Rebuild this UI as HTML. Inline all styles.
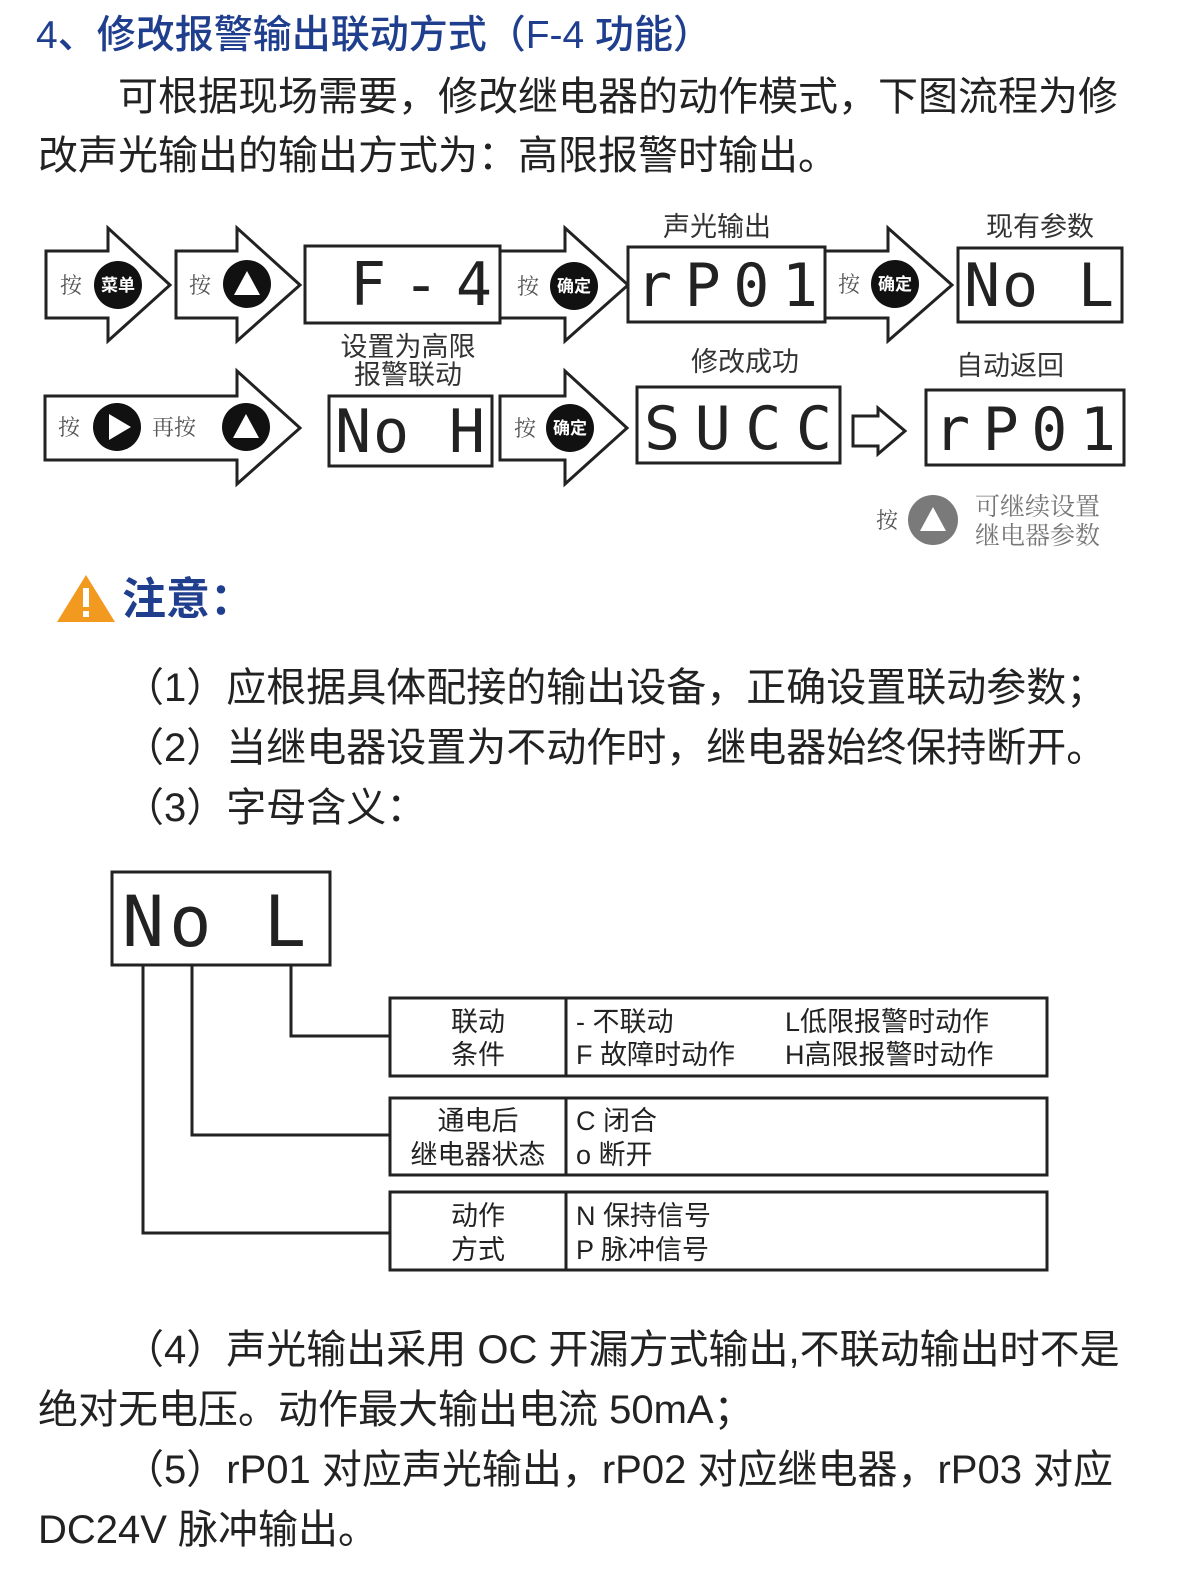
<!DOCTYPE html>
<html><head><meta charset="utf-8"><style>
body{margin:0;background:#fff;}
#p{position:relative;width:1199px;height:1585px;overflow:hidden;font-family:"Liberation Sans","Noto Sans CJK SC",sans-serif;color:#222;}
.t{position:absolute;white-space:nowrap;line-height:1;}
.b{font-size:40px;}
svg{position:absolute;left:0;top:0;}
</style></head><body><div id="p">
<div class="t" style="left:36px;top:16px;font-size:39px;color:#1f3e8e;font-weight:500;">4、修改报警输出联动方式（F-4 功能）</div>
<div class="t b" style="left:118px;top:77px;">可根据现场需要，修改继电器的动作模式，下图流程为修</div>
<div class="t b" style="left:38px;top:136px;">改声光输出的输出方式为：高限报警时输出。</div>

<svg width="1199" height="1585" viewBox="0 0 1199 1585" font-family="Liberation Sans, Noto Sans CJK SC, sans-serif">
<g fill="#fff" stroke="#222" stroke-width="3">
<polygon points="46,251 108,251 108,228 170,285 108,341 108,318 46,318"/>
<polygon points="176,251 237,251 237,228 300,285 237,341 237,318 176,318"/>
<polygon points="500,251 565,251 565,228 628,285 565,341 565,318 500,318"/>
<polygon points="825,251 888,251 888,228 952,285 888,341 888,318 825,318"/>
<polygon points="45,396 237,396 237,371 300,428 237,484 237,460 45,460"/>
<polygon points="500,396 565,396 565,371 627,428 565,484 565,460 500,460"/>
<polygon points="853,416 878,416 878,408 905,431 878,454 878,446 853,446"/>
<rect x="305" y="246" width="195" height="77"/>
<rect x="628" y="247" width="197" height="75"/>
<rect x="958" y="248" width="164" height="74"/>
<rect x="329" y="396" width="163" height="70"/>
<rect x="637" y="387" width="203" height="76"/>
<rect x="926" y="390" width="198" height="75"/>
<rect x="112" y="872" width="218" height="93"/>
<rect x="390" y="998" width="657" height="78"/>
<rect x="390" y="1098" width="657" height="77"/>
<rect x="390" y="1192" width="657" height="78"/>
</g>
<g stroke="#222" stroke-width="3" fill="none">
<line x1="566" y1="998" x2="566" y2="1076"/><line x1="566" y1="1098" x2="566" y2="1175"/><line x1="566" y1="1192" x2="566" y2="1270"/>
<polyline points="143,965 143,1233 390,1233"/>
<polyline points="192,965 192,1135 390,1135"/>
<polyline points="291,965 291,1036 390,1036"/>
</g>
<g fill="#111">
<circle cx="118" cy="285" r="24"/><circle cx="247" cy="284" r="24"/><circle cx="574" cy="286" r="24"/><circle cx="895" cy="284" r="24"/>
<circle cx="117" cy="427" r="24"/><circle cx="246" cy="427" r="24"/><circle cx="570" cy="428" r="24"/>
</g>
<circle cx="933" cy="520" r="25" fill="#7a7a7a"/>
<g fill="#fff">
<polygon points="247,271 260,295 234,295"/><polygon points="246,414 259,438 233,438"/><polygon points="933,507 946,531 920,531"/>
<polygon points="109,414 131,427 109,440"/>
</g>
<g fill="#fff" font-size="17" font-weight="bold" text-anchor="middle">
<text x="118" y="291">菜单</text><text x="574" y="292">确定</text><text x="895" y="290">确定</text><text x="570" y="434">确定</text>
</g>
<g fill="#555" font-size="22" font-family="Liberation Serif, Noto Serif CJK SC, serif">
<text x="60" y="293">按</text><text x="189" y="293">按</text><text x="517" y="294">按</text><text x="838" y="292">按</text>
<text x="58" y="435">按</text><text x="152" y="435">再按</text><text x="514" y="436">按</text><text x="876" y="528">按</text>
<text x="975" y="515" font-size="25" fill="#777">可继续设置</text><text x="975" y="544" font-size="25" fill="#777">继电器参数</text>
</g>
<g fill="#333" font-size="27" text-anchor="middle">
<text x="717" y="236">声光输出</text><text x="1040" y="236">现有参数</text>
<text x="408" y="356">设置为高限</text><text x="408" y="384">报警联动</text>
<text x="745" y="371">修改成功</text><text x="1010" y="375">自动返回</text>
</g>
<g fill="#222" font-family="DejaVu Sans Mono, Liberation Mono, monospace" font-size="60">
<text x="350" y="305" textLength="142" lengthAdjust="spacing">F-4</text>
<text x="636" y="306" textLength="182" lengthAdjust="spacing">rP01</text>
<text x="964" y="306" textLength="150" lengthAdjust="spacing">No L</text>
<text x="335" y="452" textLength="150" lengthAdjust="spacing">No H</text>
<text x="644" y="449" textLength="188" lengthAdjust="spacing">SUCC</text>
<text x="934" y="450" textLength="182" lengthAdjust="spacing">rP01</text>
<text x="122" y="946" font-size="70" textLength="184" lengthAdjust="spacing">No L</text>
</g>
<g fill="#222" font-size="27">
<g text-anchor="middle"><text x="478" y="1031">联动</text><text x="478" y="1064">条件</text>
<text x="478" y="1130">通电后</text><text x="478" y="1164">继电器状态</text>
<text x="478" y="1225">动作</text><text x="478" y="1259">方式</text></g>
<text x="576" y="1031">- 不联动</text><text x="785" y="1031">L低限报警时动作</text>
<text x="576" y="1064">F 故障时动作</text><text x="785" y="1064">H高限报警时动作</text>
<text x="576" y="1130">C 闭合</text><text x="576" y="1164">o 断开</text>
<text x="576" y="1225">N 保持信号</text><text x="576" y="1259">P 脉冲信号</text>
</g>
<polygon points="86,575 115,622 57,622" fill="#f29a1f"/>
<rect x="83" y="588" width="6" height="19" fill="#fff"/><rect x="83" y="611" width="6" height="6" fill="#fff"/>
</svg>

<div class="t" style="left:122px;top:578px;font-size:44px;color:#1f3e8e;font-weight:bold;">注意：</div>
<div class="t b" style="left:124px;top:668px;">（1）应根据具体配接的输出设备，正确设置联动参数；</div>
<div class="t b" style="left:124px;top:728px;">（2）当继电器设置为不动作时，继电器始终保持断开。</div>
<div class="t b" style="left:124px;top:788px;">（3）字母含义：</div>
<div class="t b" style="left:124px;top:1330px;">（4）声光输出采用 OC 开漏方式输出,不联动输出时不是</div>
<div class="t b" style="left:38px;top:1390px;">绝对无电压。动作最大输出电流 50mA；</div>
<div class="t b" style="left:124px;top:1450px;">（5）rP01 对应声光输出，rP02 对应继电器，rP03 对应</div>
<div class="t b" style="left:38px;top:1510px;">DC24V 脉冲输出。</div>
</div></body></html>
